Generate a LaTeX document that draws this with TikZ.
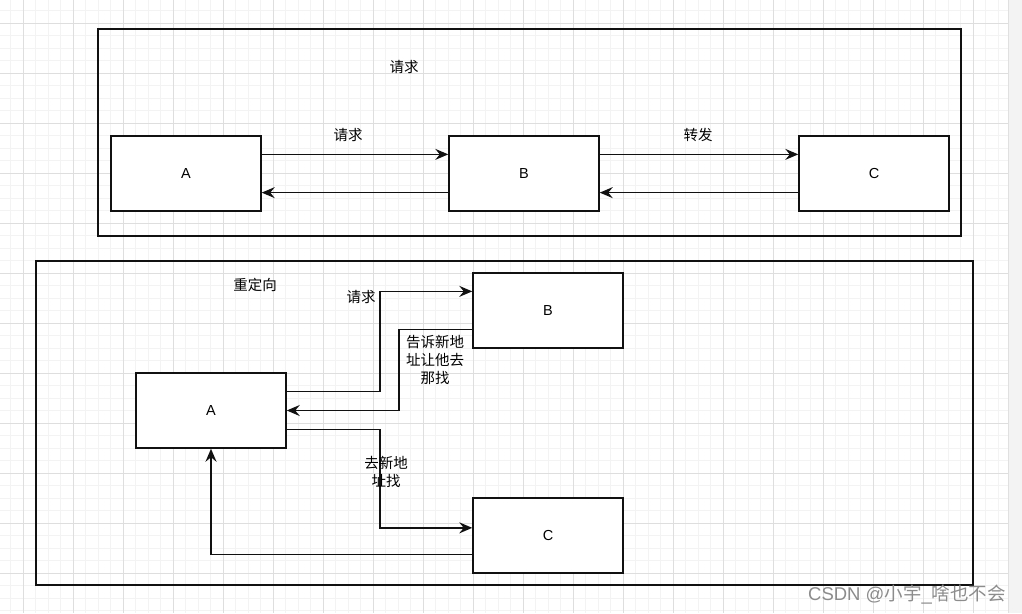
\documentclass[tikz,border=0pt]{standalone}
\usepackage{fontspec}
\setmainfont{Noto Sans CJK SC}
\newfontfamily\wmfont{Liberation Sans}
\newfontfamily\cjkwm{Noto Sans CJK SC}
\usetikzlibrary{arrows.meta,calc}
\definecolor{minorgrid}{HTML}{F3F3F3}
\definecolor{majorgrid}{HTML}{DEDEDE}
\definecolor{stripc}{HTML}{F3F3F3}
\definecolor{linec}{HTML}{111111}
\definecolor{wm}{HTML}{8C8C8C}
\tikzset{
  box/.style={draw=linec, line width=1.5pt, fill=white, minimum width=150pt, minimum height=75pt, inner sep=0pt, font=\wmfont\fontsize{14.5}{18}\selectfont},
  frame/.style={draw=linec, line width=1.5pt},
  arr/.style={draw=linec, line width=1.6pt, -{Stealth[length=13pt,width=11pt,inset=4.5pt]}},
  lbl/.style={font=\fontsize{14.5}{18}\selectfont, inner sep=1pt, align=center},
}
\begin{document}
\begin{tikzpicture}[x=1pt,y=-1pt]
\useasboundingbox (0,0) rectangle (1022,613);
% background grid
\fill[white] (0,0) rectangle (1022,613);
\begin{scope}
\clip (0,0) rectangle (1008,613);
\foreach \i in {0,...,81} {
  \draw[minorgrid, line width=1pt] ({-2+12.5*\i},0) -- ({-2+12.5*\i},613);
}
\foreach \i in {0,...,49} {
  \draw[minorgrid, line width=1pt] (0,{-2+12.5*\i}) -- (1008,{-2+12.5*\i});
}
\foreach \i in {0,...,20} {
  \draw[majorgrid, line width=1pt] ({23+50*\i},0) -- ({23+50*\i},613);
}
\foreach \i in {0,...,12} {
  \draw[majorgrid, line width=1pt] (0,{23+50*\i}) -- (1008,{23+50*\i});
}
\end{scope}
\fill[stripc] (1008,0) rectangle (1022,613);
\draw[black!12, line width=1pt] (1008.5,0) -- (1008.5,613);

% top frame
\draw[frame] (98,29) rectangle (961,236);
\node[lbl] (t1) at (404,67) {请求};
\node[box] (A1) at (186,173.5) {A};
\node[box] (B1) at (524,173.5) {B};
\node[box] (C1) at (874,173.5) {C};
\coordinate (A1o) at ($(A1.north east)!0.25!(A1.south east)$);
\coordinate (A1i) at ($(A1.north east)!0.75!(A1.south east)$);
\coordinate (B1li) at ($(B1.north west)!0.25!(B1.south west)$);
\coordinate (B1lo) at ($(B1.north west)!0.75!(B1.south west)$);
\coordinate (B1ro) at ($(B1.north east)!0.25!(B1.south east)$);
\coordinate (B1ri) at ($(B1.north east)!0.75!(B1.south east)$);
\coordinate (C1i) at ($(C1.north west)!0.25!(C1.south west)$);
\coordinate (C1o) at ($(C1.north west)!0.75!(C1.south west)$);
\draw[arr] (A1o) -- (B1li);
\draw[arr] (B1lo) -- (A1i);
\draw[arr] (B1ro) -- (C1i);
\draw[arr] (C1o) -- (B1ri);
\node[lbl] (l1) at (348,135) {请求};
\node[lbl] (l2) at (698,135) {转发};

% bottom frame
\draw[frame] (36,261) rectangle (973,585);
\node[lbl] (t2) at (255,285) {重定向};
\node[box] (A2) at (211,410.5) {A};
\node[box] (B2) at (548,310.5) {B};
\node[box] (C2) at (548,535.5) {C};
\coordinate (X1) at (380,0);
\coordinate (X2) at (399,0);
\coordinate (A2o1) at ($(A2.north east)!0.25!(A2.south east)$);
\coordinate (A2o2) at ($(A2.north east)!0.75!(A2.south east)$);
\coordinate (B2i) at ($(B2.north west)!0.25!(B2.south west)$);
\coordinate (B2o) at ($(B2.north west)!0.75!(B2.south west)$);
\coordinate (C2i) at ($(C2.north west)!0.4!(C2.south west)$);
\coordinate (C2o) at ($(C2.north west)!0.75!(C2.south west)$);
\draw[arr] (A2o1) -- (A2o1 -| X1) -- (B2i -| X1) -- (B2i);
\draw[arr] (B2o) -- (B2o -| X2) -- (A2.east -| X2) -- (A2.east);
\draw[arr] (A2o2) -- (A2o2 -| X1) -- (C2i -| X1) -- (C2i);
\draw[arr] (C2o) -- (C2o -| A2.south) -- (A2.south);
\node[lbl] (l3) at (361,297) {请求};
\node[lbl] (l4) at (435,360) {告诉新地\\址让他去\\那找};
\node[lbl] (l5) at (386,472) {去新地\\址找};

% watermark
\node[font=\fontsize{18.5}{22}\selectfont, text=wm, anchor=east, inner sep=0pt] (wmk) at (1006,595) {{\wmfont CSDN @}{\cjkwm 小宇}{\wmfont \_}{\cjkwm 啥也不会}};
\end{tikzpicture}
\end{document}
